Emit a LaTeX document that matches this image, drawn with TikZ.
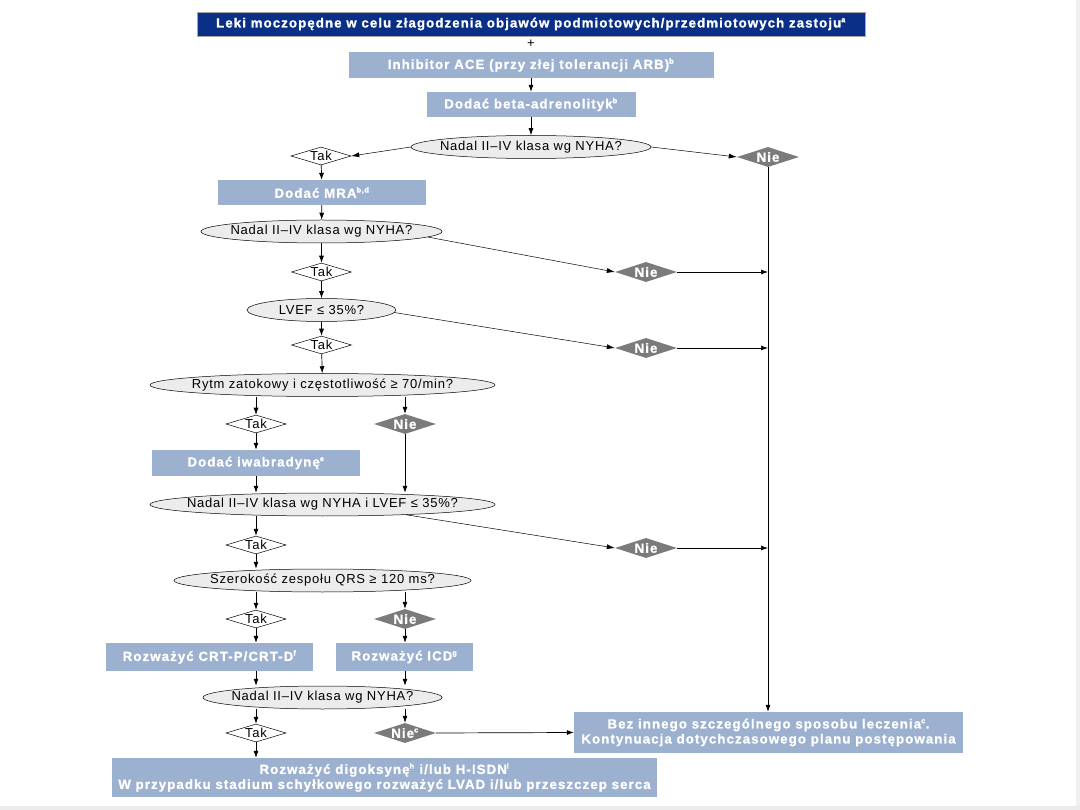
\documentclass[tikz,border=0pt]{standalone}
\usepackage{fontspec}
\setmainfont{Liberation Sans}
\newfontfamily\qfamily[LetterSpace=6]{Liberation Sans}
\newfontfamily\boxfamily[LetterSpace=8,FakeBold=1]{Liberation Sans Bold}
\usetikzlibrary{shapes.geometric,arrows.meta}
\definecolor{navyblue}{RGB}{10,47,135}
\definecolor{stepblue}{RGB}{156,176,207}
\definecolor{qgray}{RGB}{236,236,236}
\definecolor{nogray}{RGB}{123,123,123}
\newcommand\flowqfont{\qfamily\fontsize{13}{15}\selectfont}
\newcommand\flowboxfont{\boxfamily\fontsize{13.3}{15}\selectfont}
\newcommand\refmark[1]{\textsuperscript{\fontsize{7.5}{8}\selectfont #1}}
\tikzset{
  topbox/.style={rectangle, draw=black!35, fill=navyblue, text=white,
    font=\flowboxfont, inner sep=0pt, minimum height=24pt},
  stepbox/.style={rectangle, fill=stepblue, text=white, align=center,
    font=\flowboxfont, inner sep=0pt},
  question/.style={ellipse, draw, line width=0.5pt, fill=qgray,
    font=\flowqfont, inner xsep=-40pt, inner ysep=0pt, minimum height=23pt},
  yesdiam/.style={diamond, aspect=3, draw, line width=0.5pt, fill=white,
    font=\flowqfont, inner sep=0pt, minimum width=60pt, minimum height=18pt},
  nodiam/.style={diamond, aspect=3, fill=nogray, text=white,
    font=\flowboxfont, inner sep=0pt, minimum width=62pt, minimum height=20pt},
  flow/.style={-{Latex[length=7pt,width=5pt]}, line width=0.7pt},
  side/.style={-{Latex[length=8pt,width=5pt]}, line width=0.5pt}
}
\begin{document}
\begin{tikzpicture}[x=1pt,y=-1pt]
\useasboundingbox (0,0) rectangle (1080,810);
\fill[black!6] (1076,0) rectangle (1080,810);
\fill[black!8] (0,806) rectangle (1080,810);

\node[topbox, minimum width=668pt] (diuretics) at (531,24)
  {Leki moczopędne w celu złagodzenia objawów podmiotowych/przedmiotowych zastoju\refmark{a}};
\node[font=\flowqfont] (plus) at (531,44) {+};
\node[stepbox, minimum width=365pt, minimum height=26pt] (ace) at (531,65)
  {Inhibitor ACE (przy złej tolerancji ARB)\refmark{b}};
\node[stepbox, minimum width=209pt, minimum height=25pt] (beta) at (531,104.5)
  {Dodać beta-adrenolityk\refmark{b}};
\node[question, minimum width=240pt] (q1) at (531,147) {Nadal II–IV klasa wg NYHA?};
\node[yesdiam] (tak1) at (321,156) {Tak};
\node[nodiam] (nie1) at (768,157) {Nie};
\node[stepbox, minimum width=208pt, minimum height=25pt] (mra) at (322,192.5)
  {Dodać MRA\refmark{b,d}};
\node[question, minimum width=241pt] (q2) at (321.5,231.5) {Nadal II–IV klasa wg NYHA?};
\node[yesdiam] (tak2) at (321.5,272) {Tak};
\node[nodiam] (nie2) at (646,272) {Nie};
\node[question, minimum width=149pt] (q3) at (321.5,310) {LVEF ≤ 35\%?};
\node[yesdiam] (tak3) at (321.5,345) {Tak};
\node[nodiam] (nie3) at (646,348) {Nie};
\node[question, minimum width=345pt] (q4) at (322.5,385) {Rytm zatokowy i częstotliwość ≥ 70/min?};
\node[yesdiam] (tak4) at (256,424) {Tak};
\node[nodiam] (nie4) at (405,424) {Nie};
\node[stepbox, minimum width=208pt, minimum height=26pt] (ivab) at (256,463)
  {Dodać iwabradynę\refmark{e}};
\node[question, minimum width=345pt] (q5) at (322.5,504.5) {Nadal II–IV klasa wg NYHA i LVEF ≤ 35\%?};
\node[yesdiam] (tak5) at (256,545) {Tak};
\node[nodiam] (nie5) at (646,548) {Nie};
\node[question, minimum width=297pt] (q6) at (322.5,580.5) {Szerokość zespołu QRS ≥ 120 ms?};
\node[yesdiam] (tak6) at (256,619) {Tak};
\node[nodiam] (nie6) at (405,619) {Nie};
\node[stepbox, minimum width=207pt, minimum height=28pt] (crt) at (209.5,657)
  {Rozważyć CRT-P/CRT-D\refmark{f}};
\node[stepbox, minimum width=137pt, minimum height=28pt] (icd) at (404.5,657)
  {Rozważyć ICD\refmark{g}};
\node[question, minimum width=239pt] (q7) at (322.5,697.5) {Nadal II–IV klasa wg NYHA?};
\node[yesdiam] (tak7) at (256,733) {Tak};
\node[nodiam] (nie7) at (405,733) {Nie\refmark{c}};
\node[stepbox, minimum width=389pt, minimum height=41pt] (nochange) at (768.5,732.5)
  {Bez innego szczególnego sposobu leczenia\refmark{c}.\\Kontynuacja dotychczasowego planu postępowania};
\node[stepbox, minimum width=545pt, minimum height=39pt] (advanced) at (384.5,777.5)
  {Rozważyć digoksynę\refmark{h} i/lub H-ISDN\refmark{i}\\W przypadku stadium schyłkowego rozważyć LVAD i/lub przeszczep serca};

\draw[flow] (ace) -- (beta);
\draw[flow] (beta) -- (q1);
\draw[side] (q1.west) -- (tak1.east);
\draw[side] (q1.east) -- (nie1.west);
\draw[flow] (nie1.south) -- (nie1.south |- nochange.north);
\draw[flow] (tak1) -- (mra);
\draw[flow] (mra) -- (q2);
\draw[flow] (q2) -- (tak2);
\draw[side] (q2.-3) -- (nie2.west);
\draw[flow] (nie2.east) -- (nie2 -| nie1);
\draw[flow] (tak2) -- (q3);
\draw[side] (q3.-2) -- (nie3.west);
\draw[flow] (nie3.east) -- (nie3 -| nie1);
\draw[flow] (q3) -- (tak3);
\draw[flow] (tak3) -- (q4);
\draw[flow] (tak4 |- q4.south) -- (tak4);
\draw[flow] (nie4 |- q4.south) -- (nie4);
\draw[flow] (tak4) -- (ivab);
\draw[flow] (ivab.south) -- (ivab.south |- q5.north);
\draw[flow] (nie4) -- (nie4 |- q5.north);
\draw[side] (q5.-7) -- (nie5.west);
\draw[flow] (nie5.east) -- (nie5 -| nie1);
\draw[flow] (tak5 |- q5.south) -- (tak5);
\draw[flow] (tak5) -- (tak5 |- q6.north);
\draw[flow] (tak6 |- q6.south) -- (tak6);
\draw[flow] (nie6 |- q6.south) -- (nie6);
\draw[flow] (tak6) -- (tak6 |- crt.north);
\draw[flow] (nie6) -- (nie6 |- icd.north);
\draw[flow] (tak6 |- crt.south) -- (tak6 |- q7.north);
\draw[flow] (nie6 |- icd.south) -- (nie6 |- q7.north);
\draw[flow] (tak7 |- q7.south) -- (tak7);
\draw[flow] (nie7 |- q7.south) -- (nie7);
\draw[flow] (nie7.east) -- (nochange.west);
\draw[flow] (tak7) -- (tak7 |- advanced.north);
\end{tikzpicture}
\end{document}
